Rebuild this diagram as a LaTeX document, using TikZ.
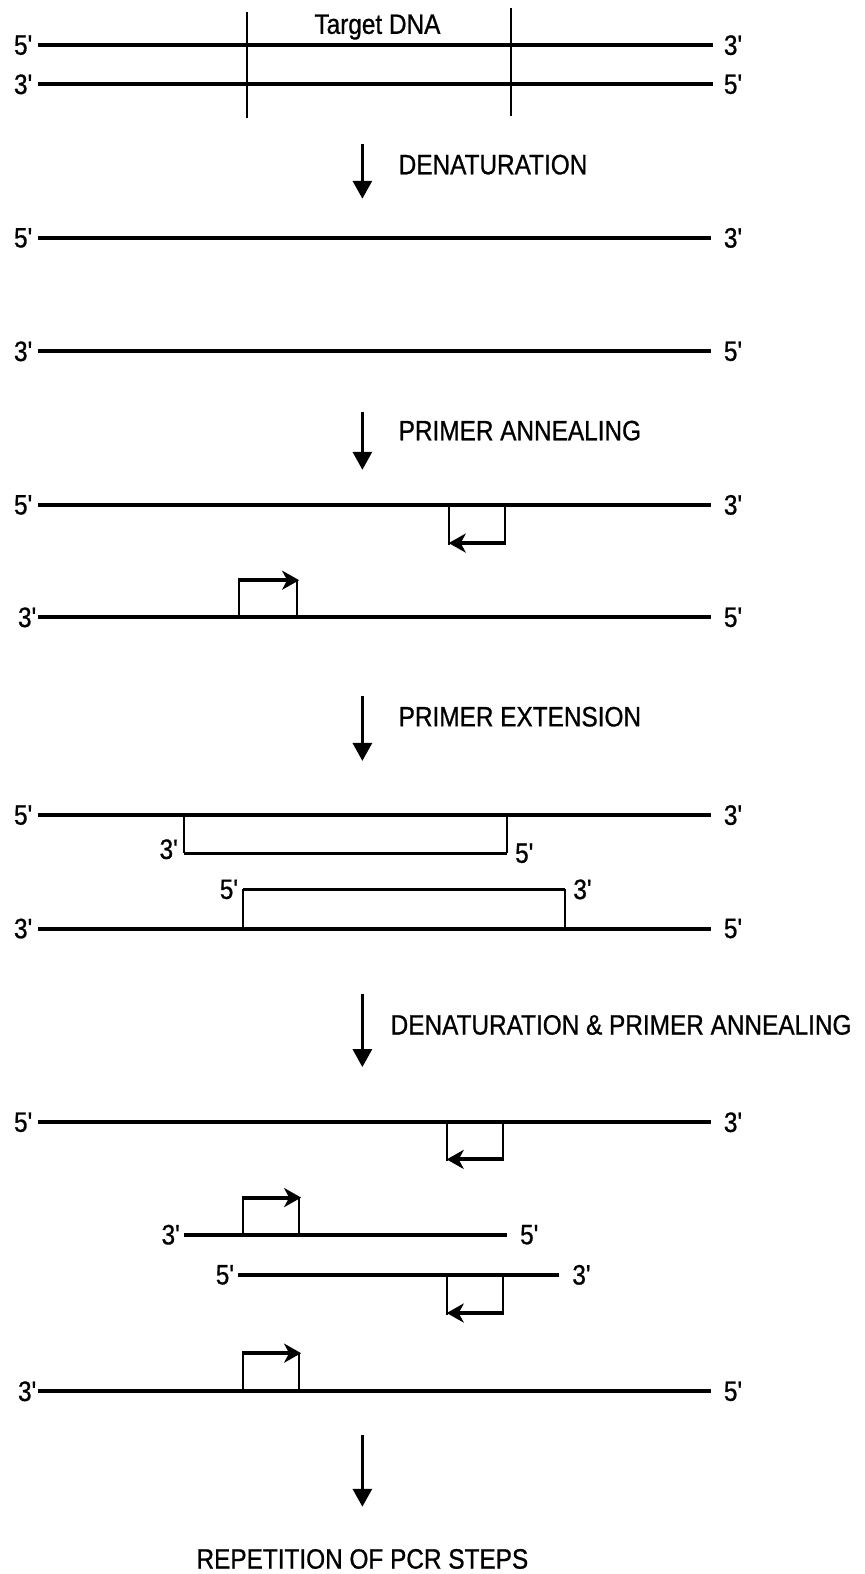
\documentclass[tikz,border=0pt]{standalone}
\usepackage{fontspec}
\setmainfont{Liberation Sans}[FakeStretch=0.87,FakeBold=0.8]
\usetikzlibrary{arrows.meta}
\newcommand{\pr}{\textquotesingle}
\begin{document}
\begin{tikzpicture}[x=1.0035bp,y=-1.0035bp,
    strand/.style={line width=4bp},
    newstrand/.style={line width=3bp},
    leg/.style={line width=2.2bp},
    primer/.style={line width=4bp,-{Stealth[length=17bp,width=19bp,inset=5bp]}},
    steparrow/.style={line width=3.2bp,-{Triangle[length=18bp,width=19bp]}},
    lab/.style={inner sep=0pt,font=\fontsize{28bp}{32bp}\selectfont},
    steplab/.style={lab,anchor=west}]
    \useasboundingbox (0,0) rectangle (861,1568);
    % target duplex
    \coordinate (d1l) at (38,45);   \coordinate (d1r) at (710,45);
    \coordinate (d2l) at (38,84);   \coordinate (d2r) at (710,84);
    \draw[strand] (d1l) -- (d1r);
    \draw[strand] (d2l) -- (d2r);
    \node[lab,left=5bp] (d1five) at (d1l) {5\pr};
    \node[lab,right=11bp] (d1three) at (d1r) {3\pr};
    \node[lab,left=5bp] (d2three) at (d2l) {3\pr};
    \node[lab,right=11bp] (d2five) at (d2r) {5\pr};
    \coordinate (t1a) at (246,12);  \coordinate (t1b) at (246,118);
    \coordinate (t2a) at (509,8);   \coordinate (t2b) at (509,116);
    \draw[leg] (t1a) -- (t1b);
    \draw[leg] (t2a) -- (t2b);
    \node[lab] (target) at (376,27) {Target DNA};
    % denaturation
    \coordinate (a1s) at (361,143); \coordinate (a1e) at (361,198);
    \draw[steparrow] (a1s) -- (a1e);
    \node[steplab] (denat) at (397,164) {DENATURATION};
    \coordinate (s3l) at (38,237);  \coordinate (s3r) at (708,237);
    \coordinate (s4l) at (38,350);  \coordinate (s4r) at (708,350);
    \draw[strand] (s3l) -- (s3r);
    \draw[strand] (s4l) -- (s4r);
    \node[lab,left=5bp] (s3five) at (s3l) {5\pr};
    \node[lab,right=13bp] (s3three) at (s3r) {3\pr};
    \node[lab,left=5bp] (s4three) at (s4l) {3\pr};
    \node[lab,right=13bp] (s4five) at (s4r) {5\pr};
    % annealing
    \coordinate (a2s) at (361,410); \coordinate (a2e) at (361,468);
    \draw[steparrow] (a2s) -- (a2e);
    \node[steplab] (anneal) at (397,429) {PRIMER ANNEALING};
    \coordinate (s5l) at (38,503);  \coordinate (s5r) at (708,503);
    \coordinate (s6l) at (38,615);  \coordinate (s6r) at (708,615);
    \draw[strand] (s5l) -- (s5r);
    \draw[strand] (s6l) -- (s6r);
    \node[lab,left=5bp] (s5five) at (s5l) {5\pr};
    \node[lab,right=13bp] (s5three) at (s5r) {3\pr};
    \node[lab,left=1bp] (s6three) at (s6l) {3\pr};
    \node[lab,right=13bp] (s6five) at (s6r) {5\pr};
    \draw[leg] (447,503) -- (447,543);
    \draw[leg] (503,503) -- (503,541);
    \draw[primer] (504,541) -- (447,541);
    \draw[leg] (238,615) -- (238,578);
    \draw[leg] (296,578) -- (296,615);
    \draw[primer] (237,578) -- (298,578);
    % extension
    \coordinate (a3s) at (361,693); \coordinate (a3e) at (361,758);
    \draw[steparrow] (a3s) -- (a3e);
    \node[steplab] (extend) at (397,714) {PRIMER EXTENSION};
    \coordinate (s7l) at (38,812);  \coordinate (s7r) at (708,812);
    \coordinate (s8l) at (38,925);  \coordinate (s8r) at (708,925);
    \draw[strand] (s7l) -- (s7r);
    \draw[strand] (s8l) -- (s8r);
    \node[lab,left=5bp] (s7five) at (s7l) {5\pr};
    \node[lab,right=13bp] (s7three) at (s7r) {3\pr};
    \node[lab,left=5bp] (s8three) at (s8l) {3\pr};
    \node[lab,right=13bp] (s8five) at (s8r) {5\pr};
    \coordinate (e1l) at (183,850); \coordinate (e1r) at (505,850);
    \draw[leg] (183,812) -- (e1l);
    \draw[leg] (505,812) -- (e1r);
    \draw[newstrand] (e1l) -- (e1r);
    \node[lab,left=5bp] (e1three) at ([yshift=4bp]e1l) {3\pr};
    \node[lab,right=8bp] (e1five) at (e1r) {5\pr};
    \coordinate (e2l) at (242,886); \coordinate (e2r) at (563,886);
    \draw[leg] (242,925) -- (e2l);
    \draw[leg] (563,925) -- (e2r);
    \draw[newstrand] (e2l) -- (e2r);
    \node[lab,left=4bp] (e2five) at (e2l) {5\pr};
    \node[lab,right=8bp] (e2three) at (e2r) {3\pr};
    % next cycle
    \coordinate (a4s) at (361,990); \coordinate (a4e) at (361,1063);
    \draw[steparrow] (a4s) -- (a4e);
    \node[steplab] (again) at (389,1021) {DENATURATION \& PRIMER ANNEALING};
    \coordinate (s9l) at (38,1118);   \coordinate (s9r) at (708,1118);
    \coordinate (s10l) at (183,1230); \coordinate (s10r) at (505,1230);
    \coordinate (s11l) at (237,1270); \coordinate (s11r) at (557,1270);
    \coordinate (s12l) at (38,1386);  \coordinate (s12r) at (708,1386);
    \draw[strand] (s9l) -- (s9r);
    \draw[strand] (s10l) -- (s10r);
    \draw[strand] (s11l) -- (s11r);
    \draw[strand] (s12l) -- (s12r);
    \node[lab,left=5bp] (s9five) at (s9l) {5\pr};
    \node[lab,right=13bp] (s9three) at (s9r) {3\pr};
    \node[lab,left=3bp] (s10three) at (s10l) {3\pr};
    \node[lab,right=13bp] (s10five) at (s10r) {5\pr};
    \node[lab,left=3bp] (s11five) at (s11l) {5\pr};
    \node[lab,right=13bp] (s11three) at (s11r) {3\pr};
    \node[lab,left=1bp] (s12three) at (s12l) {3\pr};
    \node[lab,right=13bp] (s12five) at (s12r) {5\pr};
    \draw[leg] (445,1118) -- (445,1157);
    \draw[leg] (501,1118) -- (501,1155);
    \draw[primer] (502,1155) -- (445,1155);
    \draw[leg] (242,1230) -- (242,1193);
    \draw[leg] (298,1193) -- (298,1230);
    \draw[primer] (241,1193) -- (300,1193);
    \draw[leg] (445,1270) -- (445,1310);
    \draw[leg] (501,1270) -- (501,1308);
    \draw[primer] (502,1308) -- (445,1308);
    \draw[leg] (242,1386) -- (242,1348);
    \draw[leg] (298,1348) -- (298,1386);
    \draw[primer] (241,1348) -- (300,1348);
    % repeat
    \coordinate (a5s) at (361,1430); \coordinate (a5e) at (361,1501);
    \draw[steparrow] (a5s) -- (a5e);
    \node[lab] (repeat) at (361,1553) {REPETITION OF PCR STEPS};
\end{tikzpicture}
\end{document}
